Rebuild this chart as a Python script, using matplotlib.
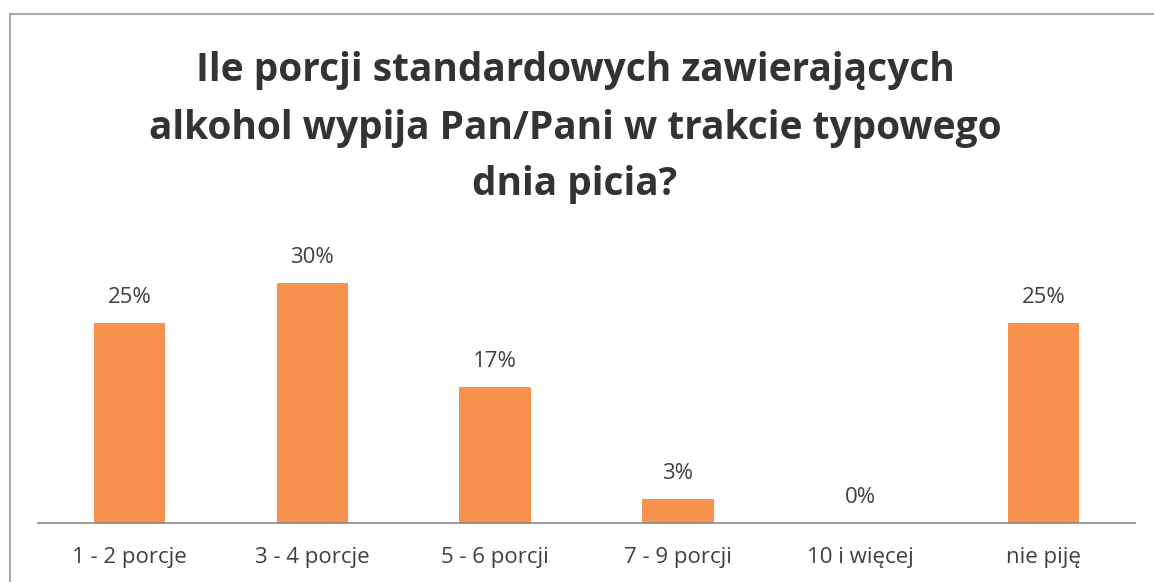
import matplotlib
matplotlib.use("Agg")
import matplotlib.pyplot as plt
from matplotlib.lines import Line2D

categories = ["1 - 2 porcje", "3 - 4 porcje", "5 - 6 porcji", "7 - 9 porcji", "10 i więcej", "nie piję"]
values = [25, 30, 17, 3, 0, 25]
labels = ["25%", "30%", "17%", "3%", "0%", "25%"]
title = "Ile porcji standardowych zawierających\nalkohol wypija Pan/Pani w trakcie typowego\ndnia picia?"

plt.rcParams['font.family'] = ['Open Sans', 'DejaVu Sans']

fig = plt.figure(figsize=(11.54, 5.82), dpi=100)
fig.patch.set_facecolor('white')
ax = fig.add_axes([38/1154, 59/582, 1097/1154, 280/582])

x = list(range(len(categories)))
ax.bar(x, values, width=0.39, color='#F7914D', zorder=2)
for xi, v, lab in zip(x, values, labels):
    ax.text(xi, v + 1.9, lab, ha='center', va='bottom', fontsize=16, color='#404040')

ax.set_xlim(-0.5, len(categories) - 0.5)
ax.set_ylim(0, 35)
ax.set_xticks(x)
ax.set_xticklabels(categories, fontsize=16, color='#404040')
ax.tick_params(axis='x', length=0, pad=17)
ax.set_yticks([])
for s in ['top', 'right', 'left']:
    ax.spines[s].set_visible(False)
ax.spines['bottom'].set_color('#8a8a8a')
ax.spines['bottom'].set_linewidth(1.2)

fig.text(575/1154, 1 - 128/582, title, ha='center', va='center', fontsize=28,
         fontweight='bold', color='#333333', linespacing=1.6)

# outer frame (left and top)
fig.add_artist(Line2D([10/1154, 10/1154], [0, 1 - 14/582], transform=fig.transFigure, color='#999999', lw=1.2))
fig.add_artist(Line2D([10/1154, 1], [1 - 14/582, 1 - 14/582], transform=fig.transFigure, color='#999999', lw=1.2))

fig.savefig("out.png", dpi=100, facecolor='white')
